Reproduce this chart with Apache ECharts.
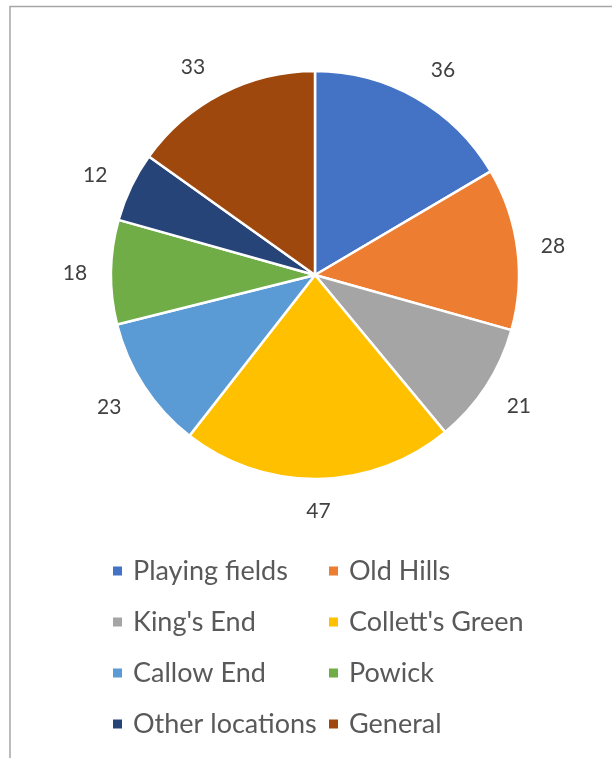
<!DOCTYPE html>
<html>
<head>
<meta charset="utf-8">
<script src="https://cdn.jsdelivr.net/npm/echarts@6/dist/echarts.min.js"></script>
<style>
  html, body { margin: 0; padding: 0; background: #ffffff; }
  #chart { width: 612px; height: 758px; }
</style>
</head>
<body>
<div id="chart"></div>
<script>
// Reports by location
const categories = ['Playing fields', 'Old Hills', "King's End", "Collett's Green",
                    'Callow End', 'Powick', 'Other locations', 'General'];
const counts = [36, 28, 21, 47, 23, 18, 12, 33];
const colors = ['#4472C4', '#ED7D31', '#A5A5A5', '#FFC000',
                '#5B9BD5', '#70AD47', '#264478', '#9E480E'];

// Small nudges so the value labels clear the pie edge evenly
const labelNudges = [[11, 0], [4, 2], [6, 3], [0, 0], [-8, 4], [-4, 2], [-7, 2], [-14, 2]];

const leftColumn = categories.filter((_, i) => i % 2 === 0);
const rightColumn = categories.filter((_, i) => i % 2 === 1);

const FONT = 'Lato, "Open Sans", sans-serif';
const center = [315, 275];

const sliceData = categories.map((name, i) => ({
  name: name,
  value: counts[i],
  itemStyle: { color: colors[i] }
}));

// Invisible ring used only to place the value labels just outside the pie
const labelData = categories.map((name, i) => ({
  name: name,
  value: counts[i],
  label: { offset: labelNudges[i] }
}));

function legendColumn(left, names) {
  return {
    orient: 'vertical',
    left: left,
    top: 556,
    padding: 0,
    data: names,
    icon: 'rect',
    itemWidth: 11,
    itemHeight: 11,
    itemGap: 21,
    selectedMode: false,
    textStyle: {
      fontFamily: FONT,
      fontSize: 27,
      lineHeight: 30,
      color: '#595959',
      padding: [0, 0, 0, 5]
    }
  };
}

const chart = echarts.init(document.getElementById('chart'), null, { renderer: 'canvas' });
chart.setOption({
  animation: false,
  backgroundColor: '#ffffff',
  graphic: [{
    type: 'rect',
    shape: { x: 10, y: 6.5, width: 640, height: 800 },
    style: { fill: 'none', stroke: '#a6a6a6', lineWidth: 1.5 },
    silent: true,
    z: -1
  }],
  legend: [legendColumn(111, leftColumn), legendColumn(327, rightColumn)],
  series: [
    {
      type: 'pie',
      center: center,
      radius: [0, 204],
      startAngle: 90,
      clockwise: true,
      avoidLabelOverlap: false,
      silent: true,
      label: { show: false },
      labelLine: { show: false },
      itemStyle: { borderColor: '#ffffff', borderWidth: 2.5 },
      data: sliceData
    },
    {
      type: 'pie',
      center: center,
      radius: [0, 466],
      startAngle: 90,
      clockwise: true,
      silent: true,
      avoidLabelOverlap: false,
      itemStyle: { color: 'rgba(0,0,0,0)' },
      label: {
        show: true,
        position: 'inner',
        formatter: '{c}',
        fontFamily: FONT,
        fontSize: 21,
        color: '#404040'
      },
      labelLine: { show: false },
      data: labelData
    }
  ]
});
</script>
</body>
</html>
